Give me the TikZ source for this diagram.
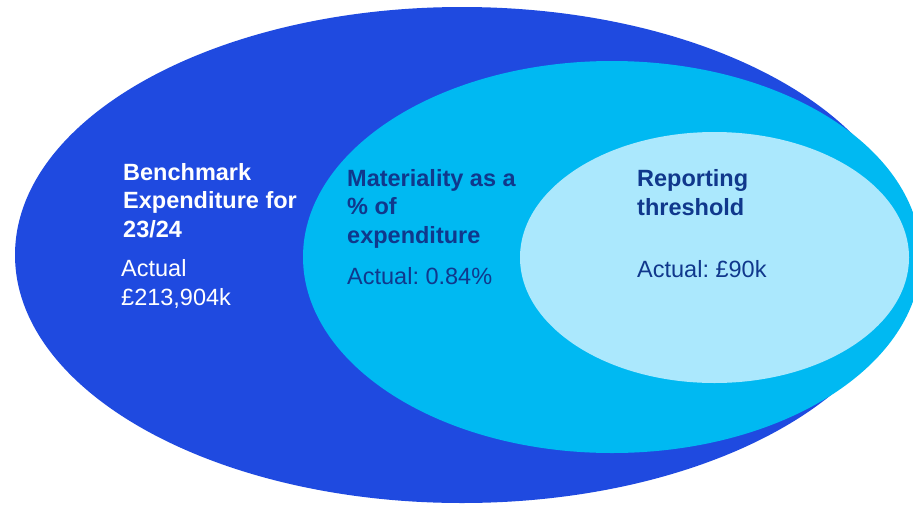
\documentclass[tikz,border=0pt]{standalone}
\usepackage{fontspec}
\setmainfont{Liberation Sans}
\frenchspacing
\usepackage{tikz}

\definecolor{benchblue}{RGB}{31,74,224}
\definecolor{matblue}{RGB}{0,185,242}
\definecolor{repblue}{RGB}{171,232,253}
\definecolor{navy}{RGB}{16,56,140}

\begin{document}
\begin{tikzpicture}[x=1pt,y=-1pt,
    title/.style={font=\fontsize{23.5}{28.5}\selectfont\bfseries,
        align=left, inner sep=0pt, anchor=base west},
    value/.style={font=\fontsize{23.5}{29}\selectfont,
        align=left, inner sep=0pt, anchor=base west}]
    % \draw[help lines] grid (913,504);
    \useasboundingbox (0,0) rectangle (913,504);
    \clip (0,0) rectangle (913,504);

    % Ellipses
    \fill[benchblue] (462,255) ellipse [x radius=447pt, y radius=248pt];
    \fill[matblue] (612,257) ellipse [x radius=309pt, y radius=196pt];
    \fill[repblue] (714.5,257.5) ellipse [x radius=194.5pt, y radius=125.5pt];

    % Benchmark (nodes sit on the baseline of their last line)
    \node[title,text=white] (bench) at (123,237) {Benchmark\\Expenditure for\\23/24};
    \node[value,text=white] (benchval) at (121,305) {Actual\\£213,904k};

    % Materiality
    \node[title,text=navy] (mat) at (347,243) {Materiality as a\\\% of\\expenditure};
    \node[value,text=navy] (matval) at (347,284) {Actual: 0.84\%};

    % Reporting threshold
    \node[title,text=navy] (rep) at (637,215) {Reporting\\threshold};
    \node[value,text=navy] (repval) at (637,277) {Actual: £90k};

\end{tikzpicture}
\end{document}
